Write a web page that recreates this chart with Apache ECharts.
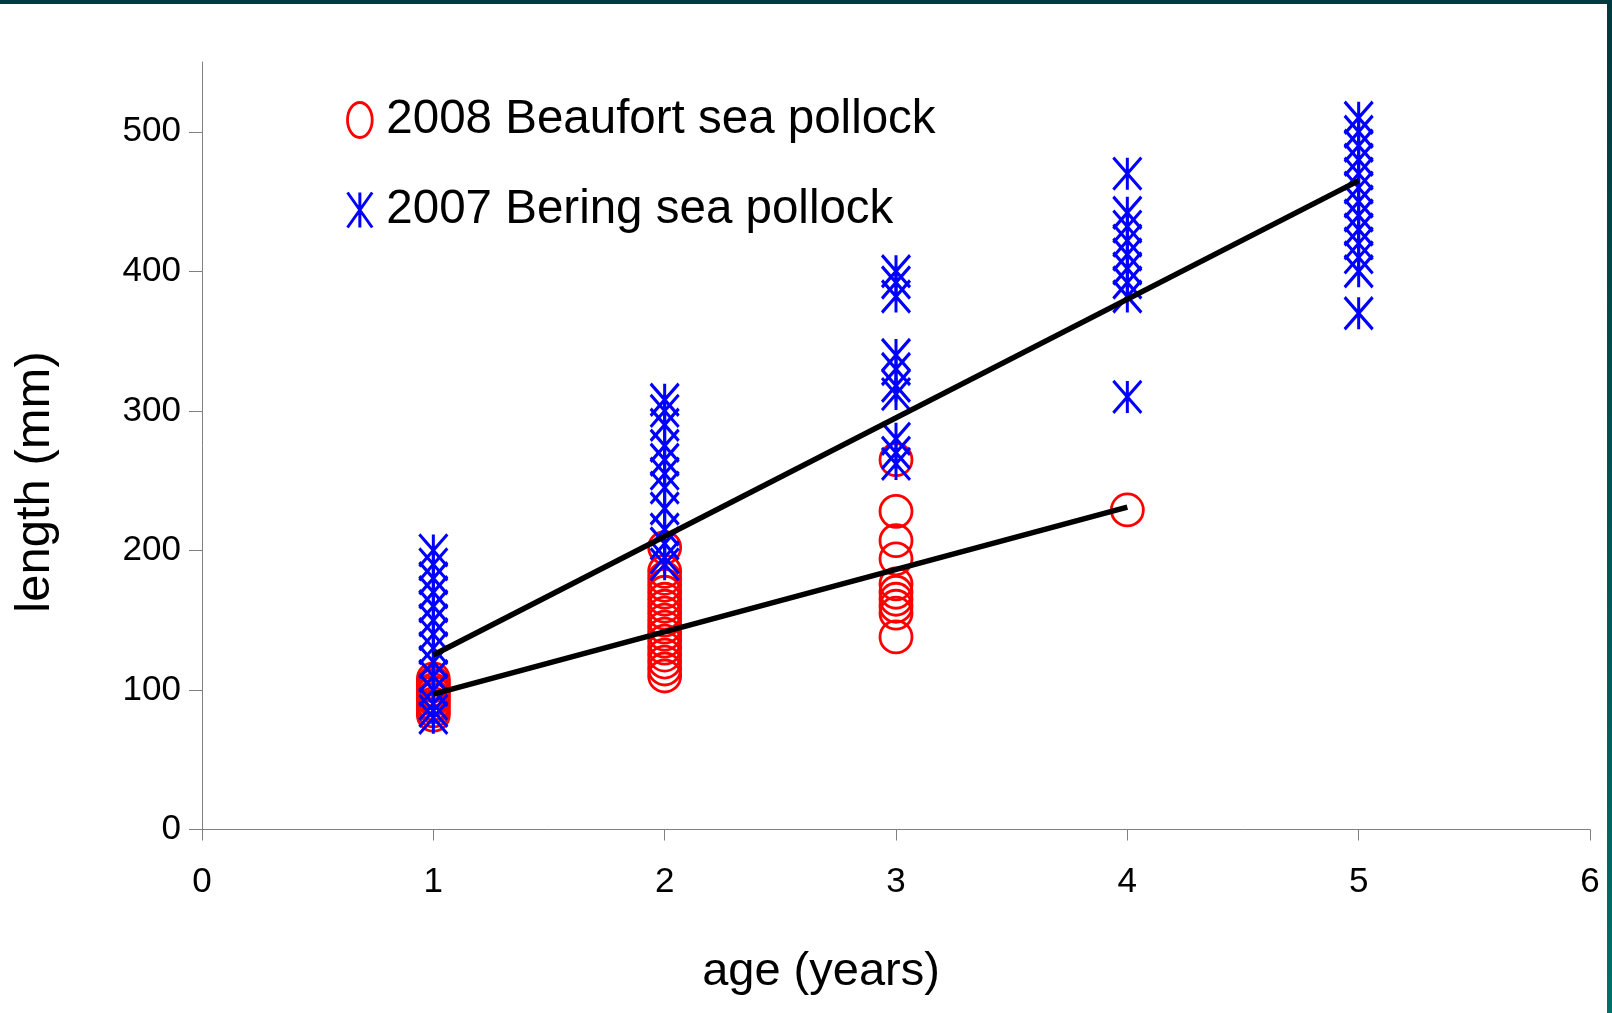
<!DOCTYPE html>
<html>
<head>
<meta charset="utf-8">
<script src="https://cdn.jsdelivr.net/npm/echarts@6/dist/echarts.min.js"></script>
<style>
html,body{margin:0;padding:0;background:#fff;}
#chart{width:1612px;height:1013px;}
</style>
</head>
<body>
<div id="chart"></div>
<script>
// ---- data ----
const yTicks = [0, 100, 200, 300, 400, 500];
const beaufortName = '2008 Beaufort sea pollock';
const beringName = '2007 Bering sea pollock';

// 2008 Beaufort sea pollock lengths (mm) by age
const beaufort1 = [82, 85, 88, 90, 93, 95, 98, 100, 103, 105, 108];
const beaufort2 = [110, 115, 120, 125, 130, 135, 140, 145, 150, 155, 160, 165, 170, 175, 180, 185, 202];
const beaufort3 = [138, 155, 160, 165, 170, 176, 194, 207, 228, 265];
const beaufort4 = [229];

// 2007 Bering sea pollock lengths (mm) by age
const bering1 = [80, 85, 90, 100, 110, 120, 130, 140, 150, 160, 170, 180, 190, 200];
const bering2 = [190, 195, 205, 215, 230, 245, 255, 265, 275, 290, 300, 308];
const bering3 = [262, 270, 280, 312, 318, 330, 340, 382, 392, 400];
const bering4 = [310, 382, 392, 402, 412, 422, 432, 442, 470];
const bering5 = [370, 400, 410, 420, 430, 440, 450, 460, 470, 480, 490, 500, 510];

// linear trend lines
const beaufortFit = [[1, 97], [4, 231]];
const beringFit = [[1, 125], [5, 465]];

function pairs(age, arr) { return arr.map(v => [age, v]); }
const beaufortData = [].concat(pairs(1, beaufort1), pairs(2, beaufort2), pairs(3, beaufort3), pairs(4, beaufort4));
const beringData = [].concat(pairs(1, bering1), pairs(2, bering2), pairs(3, bering3), pairs(4, bering4), pairs(5, bering5));

const FF = '"Liberation Sans", Arial, Helvetica, sans-serif';
const axisGray = '#808080';

const chart = echarts.init(document.getElementById('chart'), null, {renderer: 'canvas'});
const option = {
  animation: false,
  backgroundColor: '#ffffff',
  grid: {left: 202, right: 22, top: 62, bottom: 183.5, containLabel: false},
  xAxis: {
    type: 'value', min: 0, max: 6, interval: 1,
    splitLine: {show: false},
    axisLine: {show: true, onZero: false, lineStyle: {color: axisGray, width: 1}},
    axisTick: {show: true, inside: false, length: 11, lineStyle: {color: axisGray, width: 1}},
    axisLabel: {show: true, color: '#000', fontSize: 35, fontFamily: FF, margin: 35}
  },
  yAxis: {
    type: 'value', min: 0, max: 550,
    splitLine: {show: false},
    axisLine: {show: true, onZero: false, lineStyle: {color: axisGray, width: 1}},
    axisTick: {show: true, inside: false, length: 13, customValues: yTicks, lineStyle: {color: axisGray, width: 1}},
    axisLabel: {show: true, color: '#000', fontSize: 35, fontFamily: FF, margin: 21, customValues: yTicks}
  },
  legend: {
    orient: 'vertical', left: 341, top: 87,
    itemWidth: 25, itemHeight: 35, itemGap: 34,
    selectedMode: false,
    textStyle: {fontSize: 47.5, color: '#000', fontFamily: FF, lineHeight: 56, padding: [0, 0, 0, 9]},
    data: [
      {name: beaufortName, icon: 'path://M12,0A12,17,0,1,1,12,34A12,17,0,1,1,12,0Z',
       itemStyle: {color: 'rgba(0,0,0,0)', borderColor: '#ff0000', borderWidth: 2.8}},
      {name: beringName, icon: 'path://M0,0L24,34M24,0L0,34M12,0L12,34',
       itemStyle: {color: 'rgba(0,0,0,0)', borderColor: '#0000ff', borderWidth: 3}}
    ]
  },
  series: [
    {
      name: beaufortName, type: 'scatter', data: beaufortData,
      symbol: 'circle', symbolSize: 32, z: 2,
      itemStyle: {color: 'rgba(0,0,0,0)', borderColor: '#ff0000', borderWidth: 2.8, opacity: 1},
      emphasis: {disabled: true}
    },
    {
      name: beringName, type: 'scatter', data: beringData,
      symbol: 'path://M0,0L28,32M28,0L0,32M14,0L14,32', symbolSize: [28, 32], z: 3,
      itemStyle: {color: 'rgba(0,0,0,0)', borderColor: '#0000ff', borderWidth: 3.2, opacity: 1},
      emphasis: {disabled: true}
    },
    {
      name: 'beaufortFit', type: 'line', data: beaufortFit, symbol: 'none', z: 5,
      lineStyle: {color: '#000', width: 5.5}, emphasis: {disabled: true}
    },
    {
      name: 'beringFit', type: 'line', data: beringFit, symbol: 'none', z: 5,
      lineStyle: {color: '#000', width: 5.5}, emphasis: {disabled: true}
    }
  ],
  graphic: [
    {type: 'text', x: 821, y: 972, style: {text: 'age (years)', fontSize: 47, fontFamily: FF, fill: '#000', align: 'center', verticalAlign: 'middle'}},
    {type: 'text', x: 35, y: 482, rotation: Math.PI / 2, style: {text: 'length (mm)', fontSize: 49, fontFamily: FF, fill: '#000', align: 'center', verticalAlign: 'middle'}},
    {type: 'rect', shape: {x: 0, y: 0, width: 1612, height: 4}, style: {fill: '#003b3f'}, z: 100},
    {type: 'rect', shape: {x: 1607, y: 0, width: 5, height: 1013}, z: 100,
     style: {fill: new echarts.graphic.LinearGradient(0, 0, 0, 1, [{offset: 0, color: '#003a3e'}, {offset: 1, color: '#00706a'}])}}
  ]
};
chart.setOption(option);
</script>
</body>
</html>
